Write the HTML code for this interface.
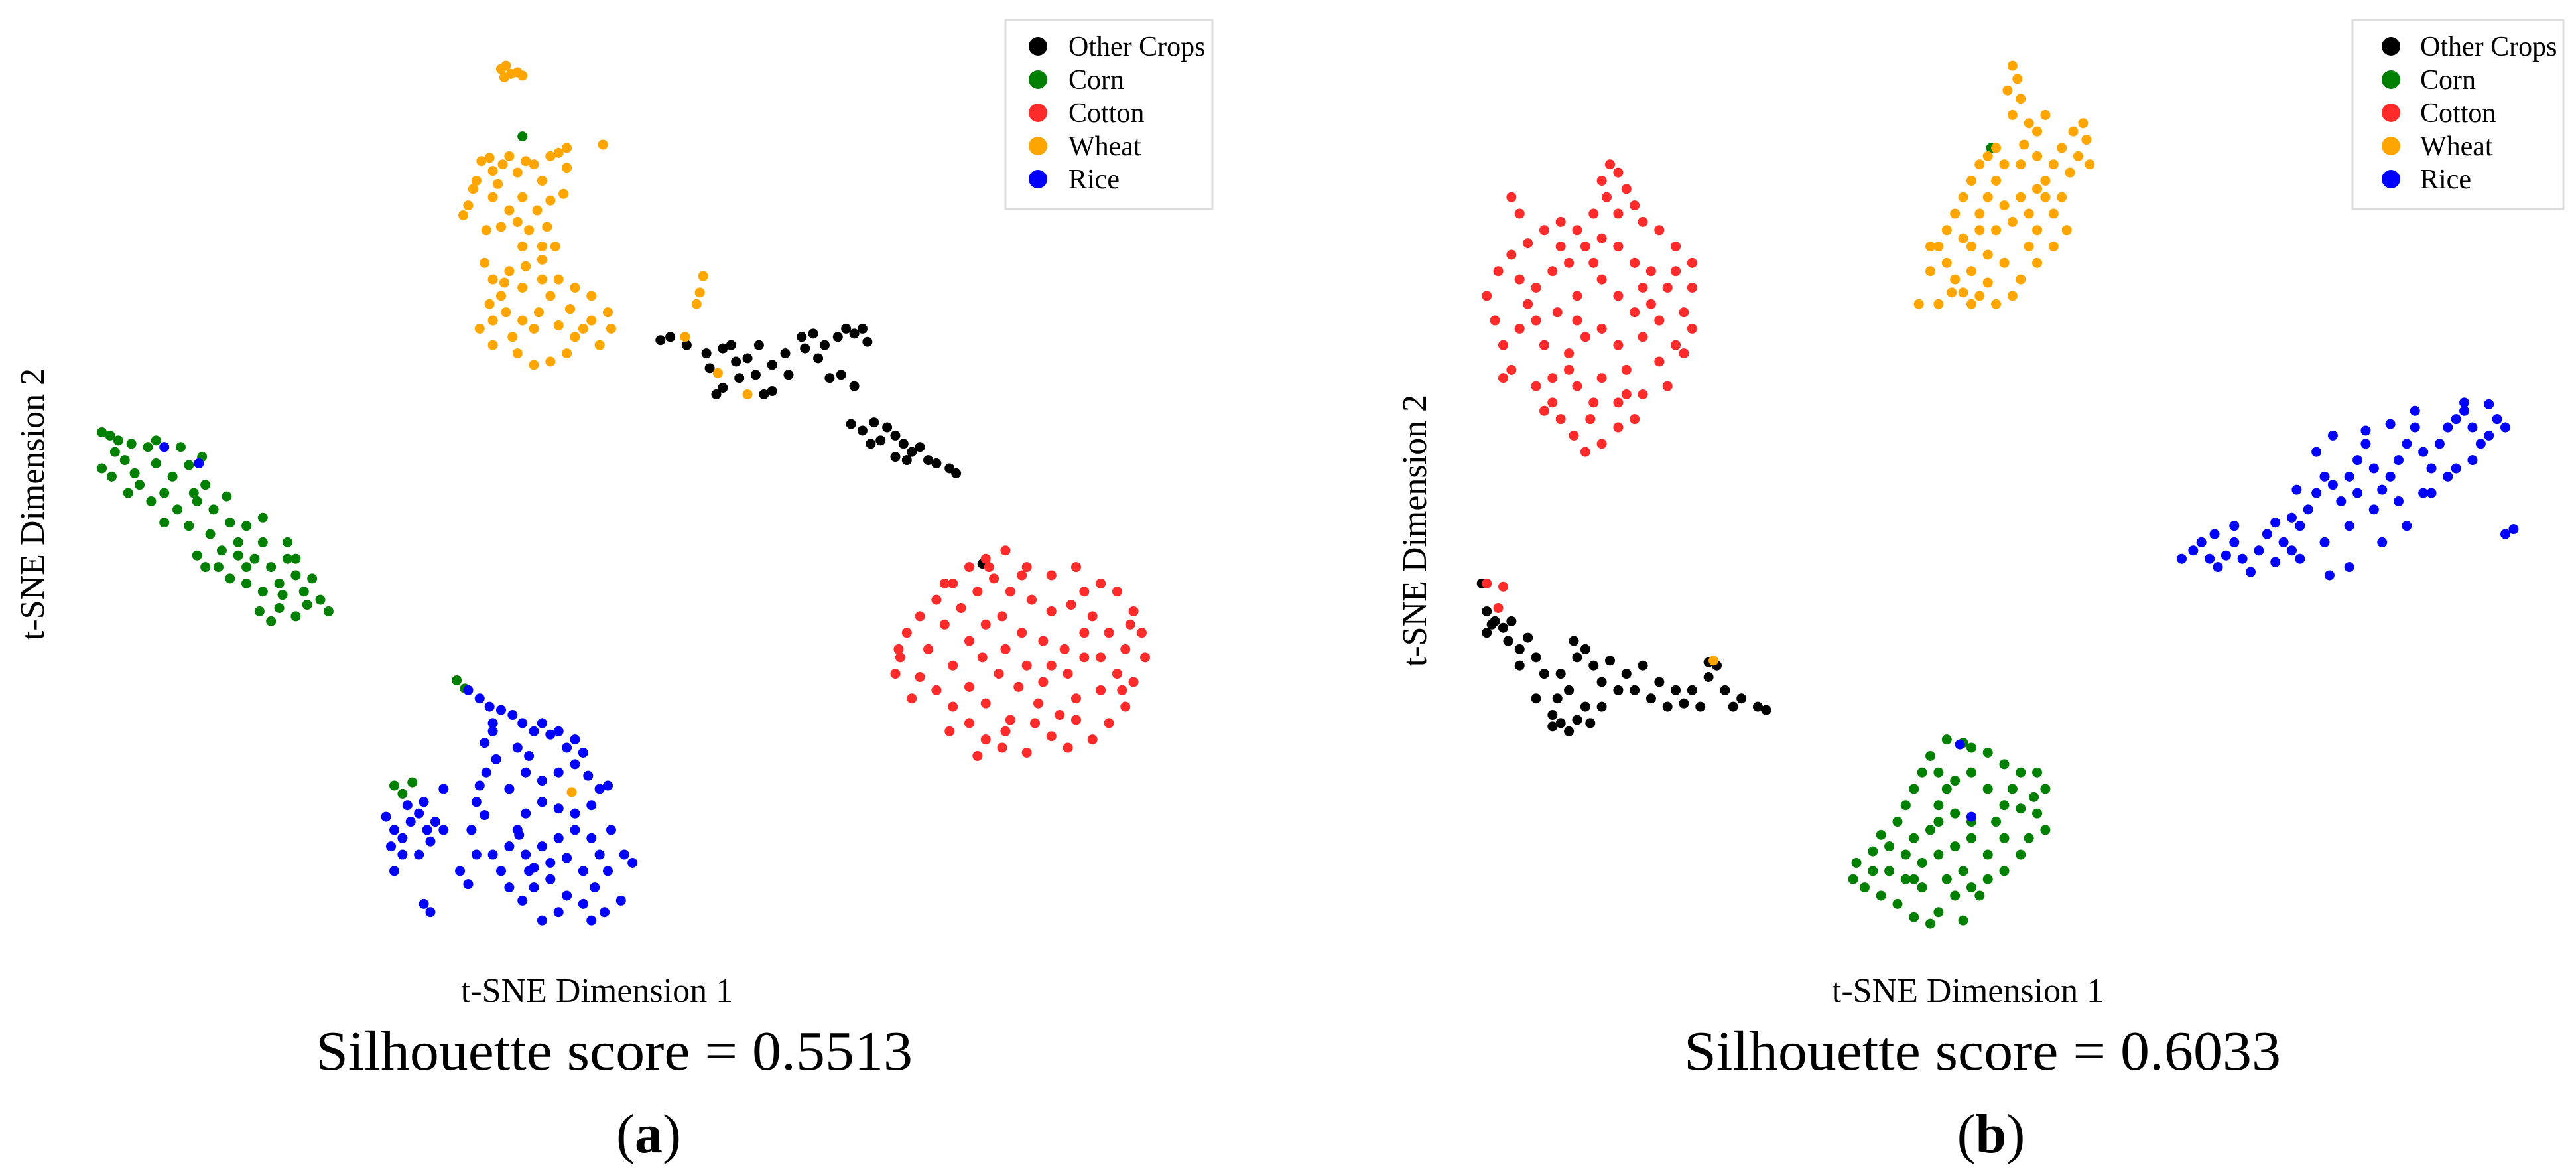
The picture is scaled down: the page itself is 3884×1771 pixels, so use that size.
<!DOCTYPE html>
<html><head><meta charset="utf-8"><style>
html,body{margin:0;padding:0;background:#fff}
svg{display:block}
text{font-family:"Liberation Serif",serif;fill:#000}
</style></head><body>
<svg id="fig" width="3884" height="1771" viewBox="0 0 3884 1771" xmlns="http://www.w3.org/2000/svg">
<g>
 <g id="ptsA"></g>
 <text x="900" y="1510" font-size="52" text-anchor="middle">t-SNE Dimension 1</text>
 <text x="0" y="0" font-size="52" text-anchor="middle" transform="translate(66,760) rotate(-90)">t-SNE Dimension 2</text>
 <text x="926" y="1612" font-size="84" text-anchor="middle" textLength="900" lengthAdjust="spacingAndGlyphs">Silhouette score = 0.5513</text>
 <text x="978" y="1737" font-size="84" text-anchor="middle">(<tspan font-weight="bold">a</tspan>)</text>
 <g>
  <rect x="1516" y="30" width="312" height="285" fill="#fff" stroke="#ddd" stroke-width="3"/>
 </g>
</g>
<g>
 <g id="ptsB"></g>
 <text x="2967" y="1510" font-size="52" text-anchor="middle">t-SNE Dimension 1</text>
 <text x="0" y="0" font-size="52" text-anchor="middle" transform="translate(2150,800) rotate(-90)">t-SNE Dimension 2</text>
 <text x="2989" y="1612" font-size="84" text-anchor="middle" textLength="900" lengthAdjust="spacingAndGlyphs">Silhouette score = 0.6033</text>
 <text x="3002" y="1737" font-size="84" text-anchor="middle">(<tspan font-weight="bold">b</tspan>)</text>
 <g>
  <rect x="3547" y="30" width="318" height="285" fill="#fff" stroke="#ddd" stroke-width="3"/>
 </g>
</g>
</svg>
<script>
const categories = ["Other Crops","Corn","Cotton","Wheat","Rice"];
const colors = ["#000000","#008000","#ff2a2a","#ffa500","#0000ff"];
// panel (a) t-SNE embeddings, [dim1, dim2] pairs
const aOther = [[402,207],[408,205],[418,210],[430,215],[440,212],[448,220],[455,218],[462,210],[470,222],[478,215],[488,205],[495,203],[502,210],[510,205],[515,200],[520,203],[525,200],[528,208],[498,218],[505,230],[512,228],[520,235],[480,228],[470,238],[460,228],[450,230],[440,236],[432,224],[445,210],[436,240],[465,240],[490,212],[518,258],[525,262],[530,270],[536,268],[540,260],[545,265],[550,270],[555,275],[560,272],[565,280],[570,282],[578,285],[582,288],[545,278],[532,257],[552,280],[598,343]];
const aCorn = [[62,263],[67,265],[72,268],[62,285],[68,290],[76,280],[80,270],[90,272],[95,282],[85,295],[78,300],[92,305],[100,300],[105,290],[110,272],[115,283],[108,310],[100,318],[115,320],[120,305],[125,295],[130,310],[128,325],[140,318],[135,335],[145,330],[150,345],[155,340],[160,330],[165,345],[170,355],[175,340],[180,350],[185,360],[190,352],[195,365],[200,372],[170,370],[160,360],[150,355],[140,352],[125,345],[120,338],[138,302],[150,320],[160,315],[175,330],[180,340],[165,378],[180,375],[145,338],[70,275],[82,288],[95,268],[118,300],[133,345],[158,372],[172,362],[187,368],[123,278],[318,83],[278,414],[283,419],[240,478],[245,483],[251,476]];
const aCotton = [[548,400],[545,410],[552,385],[560,375],[570,365],[580,355],[590,345],[600,340],[612,335],[625,345],[640,350],[655,345],[670,355],[680,360],[690,372],[695,385],[697,400],[690,415],[685,430],[675,440],[665,450],[650,455],[640,448],[625,458],[610,455],[600,450],[590,440],[580,430],[570,420],[560,412],[565,395],[575,380],[585,370],[595,360],[605,352],[615,360],[628,365],[640,372],[652,368],[665,375],[675,385],[685,395],[680,410],[670,420],[655,425],[645,435],[630,440],[615,438],[600,428],[590,418],[580,405],[590,390],[600,380],[610,375],[622,385],[635,390],[648,395],[660,400],[650,410],[635,415],[620,418],[608,410],[598,400],[612,395],[625,405],[640,405],[660,385],[670,400],[578,445],[595,460],[612,445],[632,428],[655,438],[547,395],[555,425],[602,345],[622,350],[683,420],[688,380],[660,360],[575,355]];
const aWheat = [[305,42],[308,40],[311,45],[315,44],[307,47],[318,46],[282,131],[285,125],[290,110],[293,98],[298,96],[300,104],[303,112],[306,100],[310,95],[315,105],[320,98],[325,100],[330,110],[335,95],[340,93],[345,102],[300,120],[310,128],[318,120],[327,128],[335,122],[296,140],[305,138],[315,135],[322,140],[333,138],[288,115],[343,118],[330,150],[338,150],[318,150],[345,90],[367,88],[295,160],[300,170],[305,180],[310,165],[320,162],[330,158],[340,170],[350,175],[360,180],[370,190],[372,200],[365,210],[350,205],[340,198],[328,190],[318,195],[308,190],[298,185],[292,200],[300,210],[315,215],[325,222],[335,220],[345,215],[355,200],[325,200],[335,180],[312,205],[300,195],[347,188],[360,195],[330,170],[307,172],[318,175],[428,168],[426,178],[424,185],[417,205],[437,227],[455,240],[348,482]];
const aRice = [[285,420],[292,425],[298,430],[305,432],[312,435],[318,440],[325,445],[330,440],[335,447],[340,445],[345,455],[350,450],[300,440],[295,452],[302,462],[296,470],[292,478],[290,488],[287,505],[295,496],[300,445],[315,455],[322,460],[235,497],[240,505],[245,510],[250,500],[255,495],[260,505],[262,512],[255,520],[245,520],[238,515],[248,490],[258,488],[265,500],[240,530],[270,505],[258,550],[262,555],[270,480],[310,480],[320,470],[330,475],[340,470],[350,465],[358,472],[365,480],[360,490],[350,495],[340,492],[330,488],[320,495],[315,505],[310,515],[320,520],[330,515],[340,510],[350,505],[360,510],[365,520],[370,530],[362,540],[355,550],[345,545],[335,535],[325,540],[318,548],[310,540],[305,530],[300,520],[290,520],[285,538],[280,530],[345,522],[335,525],[325,528],[355,530],[368,555],[360,560],[340,555],[330,560],[322,530],[372,505],[380,520],[385,525],[378,548],[370,478],[355,458],[316,508],[100,272],[121,282]];
// panel (b) t-SNE embeddings
const bOther = [[902,355],[908,380],[905,372],[910,378],[915,382],[920,378],[918,390],[925,395],[930,388],[935,400],[940,410],[935,425],[945,435],[950,440],[960,438],[965,430],[955,420],[950,410],[960,400],[958,390],[965,395],[970,405],[980,402],[990,410],[1000,405],[1010,415],[1020,420],[1030,420],[1040,412],[1045,405],[1050,420],[1060,425],[1070,430],[1075,432],[1055,430],[1035,430],[1025,428],[1015,430],[1005,425],[995,420],[985,420],[975,430],[968,440],[955,445],[945,442],[948,425],[975,415],[1040,403],[905,385],[925,405]];
const bCorn = [[1185,450],[1195,452],[1200,455],[1210,458],[1220,465],[1230,470],[1240,470],[1245,480],[1240,495],[1245,505],[1235,510],[1230,520],[1220,530],[1210,535],[1200,540],[1190,545],[1180,555],[1175,562],[1165,558],[1155,550],[1145,545],[1135,540],[1128,535],[1130,525],[1140,518],[1145,508],[1155,500],[1160,490],[1165,480],[1170,470],[1175,460],[1180,470],[1190,475],[1200,470],[1210,480],[1220,490],[1225,480],[1215,500],[1200,500],[1190,495],[1180,490],[1175,505],[1165,510],[1160,520],[1170,525],[1180,520],[1190,515],[1200,510],[1210,520],[1195,530],[1185,535],[1170,540],[1160,535],[1150,530],[1140,530],[1205,545],[1180,500],[1220,510],[1230,492],[1238,485],[1150,515],[1165,535],[1195,560],[1185,480],[1212,90]];
const bCotton = [[980,100],[985,105],[975,110],[990,115],[978,120],[995,125],[985,130],[970,130],[1000,135],[1010,140],[1020,150],[1030,160],[1030,175],[1025,190],[1030,200],[1020,210],[1010,220],[1015,235],[1000,240],[995,255],[985,260],[975,270],[965,275],[958,265],[950,255],[945,245],[935,235],[920,225],[915,210],[910,195],[905,180],[912,165],[920,155],[930,148],[940,140],[950,135],[960,140],[920,120],[925,130],[925,170],[935,175],[945,165],[955,160],[965,150],[975,145],[985,150],[995,160],[1005,165],[1015,175],[1005,185],[995,190],[985,180],[975,170],[960,180],[948,190],[935,195],[925,200],[940,210],[955,215],[965,205],[975,200],[985,210],[1000,205],[1010,195],[990,225],[975,230],[960,235],[945,230],[970,245],[985,245],[955,225],[930,185],[960,195],[1000,175],[970,160],[1020,165],[940,250],[968,255],[990,240],[950,150],[915,230],[1025,215],[905,355],[915,357],[912,370]];
const bWheat = [[1225,40],[1228,48],[1222,55],[1230,60],[1225,70],[1235,75],[1240,80],[1245,70],[1232,88],[1255,90],[1262,80],[1268,75],[1270,85],[1265,95],[1272,100],[1260,105],[1250,100],[1245,110],[1255,120],[1250,130],[1240,140],[1235,150],[1240,160],[1230,170],[1225,180],[1215,185],[1205,180],[1200,185],[1195,178],[1190,170],[1185,160],[1180,150],[1185,140],[1190,130],[1195,120],[1200,110],[1205,100],[1210,95],[1215,90],[1220,100],[1215,110],[1210,120],[1220,125],[1230,120],[1240,115],[1235,130],[1225,135],[1215,140],[1205,140],[1200,150],[1210,155],[1220,160],[1200,165],[1210,172],[1230,100],[1240,95],[1205,130],[1195,145],[1250,150],[1175,165],[1168,185],[1180,185],[1188,178],[1175,150],[1245,120],[1258,140],[1043,402]];
const bRice = [[1328,340],[1335,335],[1340,330],[1345,340],[1350,345],[1355,338],[1360,330],[1365,340],[1370,348],[1375,335],[1380,325],[1385,318],[1390,330],[1395,335],[1400,320],[1405,310],[1410,300],[1415,290],[1420,295],[1425,305],[1430,290],[1435,280],[1440,270],[1445,285],[1450,298],[1455,290],[1460,280],[1465,270],[1470,260],[1475,275],[1480,285],[1485,270],[1490,260],[1495,255],[1500,250],[1505,260],[1510,270],[1515,265],[1520,255],[1505,280],[1490,290],[1475,300],[1460,305],[1445,310],[1430,320],[1415,330],[1400,340],[1385,342],[1410,275],[1420,265],[1440,262],[1455,258],[1470,250],[1500,245],[1515,246],[1525,260],[1525,325],[1530,322],[1398,298],[1450,330],[1430,345],[1418,350],[1395,315],[1465,320],[1480,300],[1495,285],[1435,300],[1360,320],[1348,325],[1193,453],[1200,497]];

const S = 3884/1568;
function xScale(v){ return v*S; }
function yScale(v){ return v*S; }
const NS = "http://www.w3.org/2000/svg";
function drawSeries(gid, series, ci){
  const g = document.getElementById(gid);
  series.forEach(function(p){
    const c = document.createElementNS(NS,"circle");
    c.setAttribute("cx", xScale(p[0]));
    c.setAttribute("cy", yScale(p[1]));
    c.setAttribute("r", 7.5);
    c.setAttribute("fill", colors[ci]);
    
    
    g.appendChild(c);
  });
}
[aOther,aCorn,aCotton,aWheat,aRice].forEach(function(s,i){ drawSeries("ptsA", s, i); });
[bOther,bCorn,bCotton,bWheat,bRice].forEach(function(s,i){ drawSeries("ptsB", s, i); });

function drawLegend(mx, tx){
  const svg = document.getElementById("fig");
  categories.forEach(function(name,i){
    const y = 70 + i*50;
    const c = document.createElementNS(NS,"circle");
    c.setAttribute("cx", mx); c.setAttribute("cy", y); c.setAttribute("r", 14);
    c.setAttribute("fill", colors[i]);
    
    
    svg.appendChild(c);
    const t = document.createElementNS(NS,"text");
    t.setAttribute("x", tx); t.setAttribute("y", y+14);
    t.setAttribute("font-size", 42);
    t.textContent = name;
    
    
    svg.appendChild(t);
  });
}
drawLegend(1565, 1611);
drawLegend(3605, 3649);
</script>
</body></html>
